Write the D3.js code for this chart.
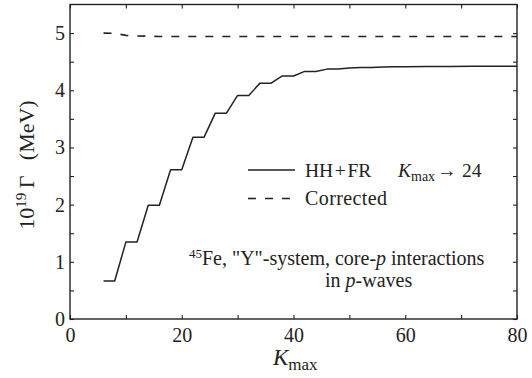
<!DOCTYPE html>
<html>
<head>
<meta charset="utf-8">
<script src="https://cdn.jsdelivr.net/npm/d3@7"></script>
<style>
  html, body { margin: 0; padding: 0; background: #fff; }
  svg { display: block; }
  text { font-family: "Liberation Serif", "Times New Roman", "DejaVu Serif", serif; fill: #222; }
</style>
</head>
<body>
<svg id="chart" width="532" height="378"></svg>
<script>
// Decay width vs. K_max: hyperspherical-harmonics result and corrected estimate
const kmax = [6, 8, 10, 12, 14, 16, 18, 20, 22, 24, 26, 28, 30, 32, 34, 36, 38, 40,
              42, 44, 46, 48, 50, 52, 54, 56, 58, 60, 64, 68, 72, 76, 80];
const widthHHFR = [0.665, 0.665, 1.345, 1.345, 1.99, 1.99, 2.61, 2.61, 3.18, 3.18,
                   3.60, 3.60, 3.91, 3.91, 4.125, 4.125, 4.25, 4.25, 4.33, 4.33,
                   4.37, 4.37, 4.39, 4.40, 4.40, 4.405, 4.41, 4.41, 4.415, 4.415, 4.42, 4.42, 4.42];
const widthCorrected = [5.00, 4.995, 4.96, 4.95, 4.945, 4.94, 4.94, 4.94, 4.94, 4.94,
                        4.94, 4.94, 4.94, 4.94, 4.94, 4.94, 4.94, 4.94, 4.94, 4.94,
                        4.94, 4.94, 4.94, 4.94, 4.94, 4.94, 4.94, 4.94, 4.94, 4.94, 4.94, 4.94, 4.94];
const xTicks = [0, 20, 40, 60, 80];
const xMinor = [10, 30, 50, 70];
const yTicks = [0, 1, 2, 3, 4, 5];
const yMinor = [0.5, 1.5, 2.5, 3.5, 4.5];

const svg = d3.select("#chart");
const mLeft = 70, mRight = 517, mTop = 4.5, mBottom = 319;
const x = d3.scaleLinear().domain([0, 80]).range([mLeft, mRight]);
const y = d3.scaleLinear().domain([0, 5.5]).range([mBottom, mTop]);
const ink = "#222";
const serif = "'Liberation Serif', 'Times New Roman', serif";

// axes with inward ticks on all four sides
const tickLen = 4;
function styleAxis(g) {
  g.select(".domain").remove();
  g.selectAll(".tick line").attr("stroke", ink).attr("stroke-width", 1.1);
  g.selectAll(".tick text").attr("fill", ink).style("font-size", "20px")
    .style("font-family", serif);
}
svg.append("g").attr("transform", `translate(0,${mBottom})`)
  .call(d3.axisBottom(x).tickValues(xTicks).tickSize(-tickLen).tickPadding(9).tickFormat(d3.format("d")))
  .call(styleAxis);
svg.append("g").attr("transform", `translate(0,${mBottom})`)
  .call(d3.axisBottom(x).tickValues(xMinor).tickSize(-tickLen).tickFormat(""))
  .call(styleAxis);
svg.append("g").attr("transform", `translate(0,${mTop})`)
  .call(d3.axisTop(x).tickValues(xTicks.concat(xMinor)).tickSize(-tickLen).tickFormat(""))
  .call(styleAxis);
svg.append("g").attr("transform", `translate(${mLeft},0)`)
  .call(d3.axisLeft(y).tickValues(yTicks).tickSize(-tickLen).tickPadding(5).tickFormat(d3.format("d")))
  .call(styleAxis);
svg.append("g").attr("transform", `translate(${mLeft},0)`)
  .call(d3.axisLeft(y).tickValues(yMinor).tickSize(-tickLen).tickFormat(""))
  .call(styleAxis);
svg.append("g").attr("transform", `translate(${mRight},0)`)
  .call(d3.axisRight(y).tickValues(yTicks.concat(yMinor)).tickSize(-tickLen).tickFormat(""))
  .call(styleAxis);

// frame
svg.append("rect")
  .attr("x", mLeft).attr("y", mTop)
  .attr("width", mRight - mLeft).attr("height", mBottom - mTop)
  .attr("fill", "none").attr("stroke", ink).attr("stroke-width", 1.4);

// curves
const line = d3.line().x(d => x(d[0])).y(d => y(d[1]));
svg.append("path")
  .datum(kmax.map((k, i) => [k, widthHHFR[i]]))
  .attr("d", line)
  .attr("fill", "none").attr("stroke", ink).attr("stroke-width", 1.5)
  .attr("stroke-linejoin", "round");
svg.append("path")
  .datum(kmax.map((k, i) => [k, widthCorrected[i]]))
  .attr("d", line)
  .attr("fill", "none").attr("stroke", ink).attr("stroke-width", 1.6)
  .attr("stroke-dasharray", "8,9");

// legend
svg.append("line").attr("x1", 248).attr("x2", 295).attr("y1", 170).attr("y2", 170)
  .attr("stroke", ink).attr("stroke-width", 1.5);
svg.append("line").attr("x1", 248).attr("x2", 295).attr("y1", 198.5).attr("y2", 198.5)
  .attr("stroke", ink).attr("stroke-width", 1.6).attr("stroke-dasharray", "8,9");

const leg1 = svg.append("text").attr("y", 176.5).style("font-size", "19.5px");
leg1.append("tspan").attr("x", 305).text("HH\u200a+\u200aFR");
leg1.append("tspan").attr("x", 398).attr("font-style", "italic").text("K");
leg1.append("tspan").attr("dy", 4).style("font-size", "14px").text("max");
leg1.append("tspan").attr("x", 437).attr("dy", -4).text("\u2192");
leg1.append("tspan").attr("x", 462).text("24");

svg.append("text").attr("x", 305).attr("y", 205).style("font-size", "20px")
  .style("letter-spacing", "0.4px").text("Corrected");

// annotation
const ann1 = svg.append("text").attr("x", 189).attr("y", 265).style("font-size", "20px");
ann1.append("tspan").attr("dy", -7).style("font-size", "13px").text("45");
ann1.append("tspan").attr("dy", 7).text("Fe, \"Y\"-system, core-");
ann1.append("tspan").attr("font-style", "italic").text("p");
ann1.append("tspan").text(" interactions");

const ann2 = svg.append("text").attr("x", 325).attr("y", 287).style("font-size", "20px");
ann2.append("tspan").text("in ");
ann2.append("tspan").attr("font-style", "italic").text("p");
ann2.append("tspan").text("-waves");

// axis titles
const xt = svg.append("text").attr("x", 273).attr("y", 365).style("font-size", "23px");
xt.append("tspan").attr("font-style", "italic").text("K");
xt.append("tspan").attr("dy", 5).style("font-size", "17px").text("max");

const yt = svg.append("text")
  .attr("transform", "translate(34,165) rotate(-90)")
  .attr("text-anchor", "middle").style("font-size", "22px");
yt.append("tspan").text("10");
yt.append("tspan").attr("dy", -8).style("font-size", "15px").text("19");
yt.append("tspan").attr("dy", 8).text("\u2009\u0393\u2002\u2009(MeV)");
</script>
</body>
</html>
